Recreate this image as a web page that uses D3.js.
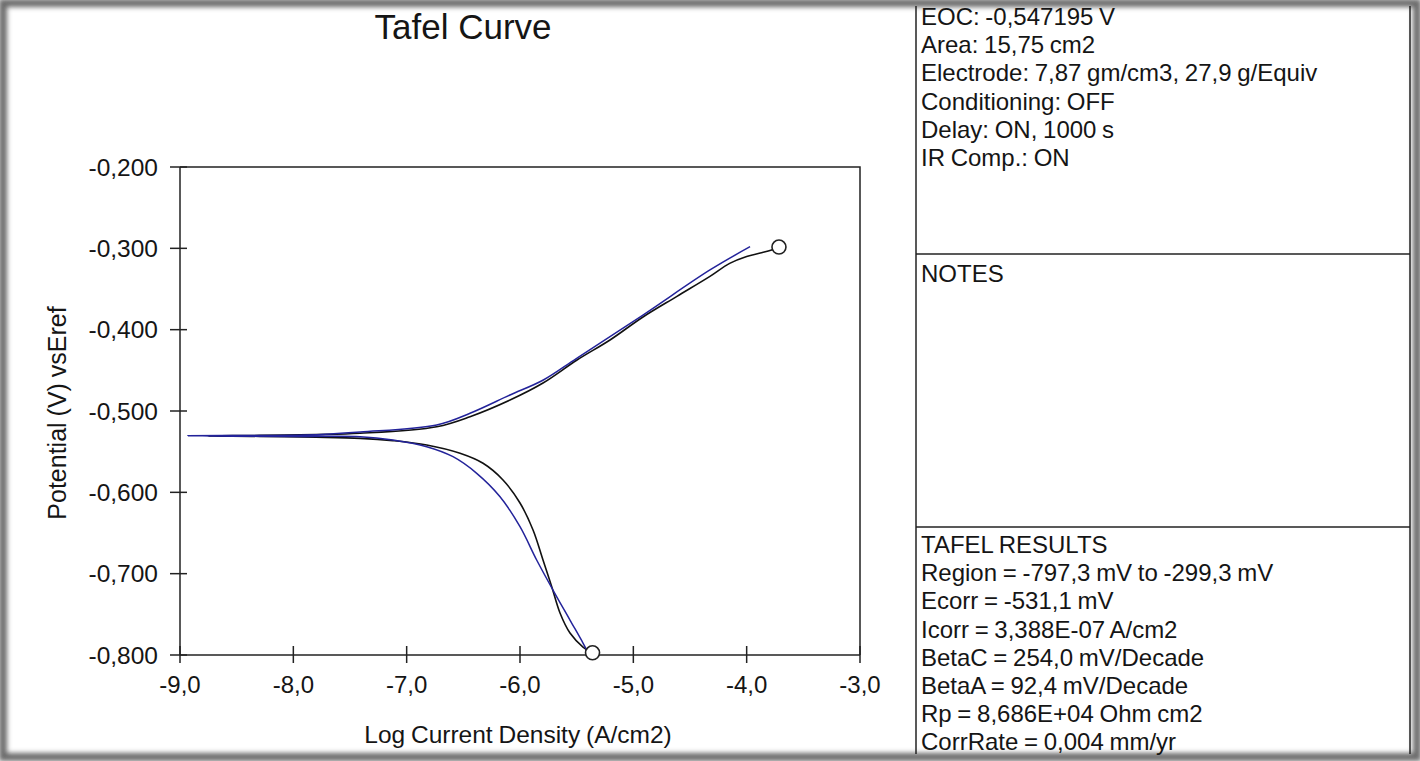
<!DOCTYPE html>
<html>
<head>
<meta charset="utf-8">
<script src="https://cdn.jsdelivr.net/npm/d3@7"></script>
<style>
  html, body { margin: 0; padding: 0; background: #fff; }
  svg text { font-family: "Liberation Sans", Arial, sans-serif; fill: #151515; }
</style>
</head>
<body>
<svg width="1420" height="761"></svg>
<script>
// Tafel plot: measured data (black) and fit (blue)

// Axis ticks
const xTicks = [-9, -8, -7, -6, -5, -4, -3];
const yTicks = [-0.2, -0.3, -0.4, -0.5, -0.6, -0.7, -0.8];

// Measured curve: cathodic branch down to Ecorr, then anodic branch
const measuredLogI = [-5.365, -5.444, -5.559, -5.647, -5.72, -5.797, -5.885, -6.0, -6.15, -6.326,
    -6.529, -6.823, -7.121, -7.41, -7.8, -8.3, -8.75, -8.3, -7.8, -7.41, -6.735, -6.441, -6.088,
    -5.797, -5.497, -5.206, -4.915, -4.615, -4.324, -4.15, -4.0, -3.88, -3.78, -3.715];
const measuredE = [-0.7973, -0.7902, -0.773, -0.7484, -0.716, -0.6832, -0.6463, -0.6131, -0.5848, -0.5643,
    -0.552, -0.5418, -0.5365, -0.5336, -0.5322, -0.5312, -0.5306, -0.5300, -0.5290, -0.5274, -0.5193, -0.507, -0.4865,
    -0.4656, -0.4373, -0.4127, -0.3844, -0.359, -0.3345, -0.3185, -0.3100, -0.3058, -0.302, -0.2984];

// Tafel fit
const fitLogI = [-5.411, -5.444, -5.559, -5.709, -5.853, -6.0, -6.176, -6.382, -6.591, -6.823, -7.121,
    -7.41, -7.9, -8.4, -8.93, -8.4, -7.9, -7.41, -6.735, -6.441, -6.088, -5.794, -5.5, -4.915, -4.324, -3.97];
const fitE = [-0.794, -0.7853, -0.757, -0.7201, -0.6832, -0.6423, -0.6054, -0.5766, -0.5562, -0.5439, -0.5357,
    -0.5316, -0.5313, -0.5311, -0.5305, -0.5300, -0.5296, -0.5258, -0.5172, -0.5028, -0.4803, -0.4619, -0.4352,
    -0.382, -0.3266, -0.298];

// End markers of the scan
const markerLogI = [-5.36, -3.715];
const markerE = [-0.7973, -0.2984];

// Info panel texts
const setupLines = ["EOC: -0,547195 V", "Area: 15,75 cm2", "Electrode: 7,87 gm/cm3, 27,9 g/Equiv",
    "Conditioning: OFF", "Delay: ON, 1000 s", "IR Comp.: ON"];
const notesLines = ["NOTES"];
const resultLines = ["TAFEL RESULTS", "Region = -797,3 mV to -299,3 mV", "Ecorr = -531,1 mV",
    "Icorr = 3,388E-07 A/cm2", "BetaC = 254,0 mV/Decade", "BetaA = 92,4 mV/Decade",
    "Rp = 8,686E+04 Ohm cm2", "CorrRate = 0,004 mm/yr"];

const svg = d3.select("svg"),
    width = +svg.attr("width"),
    height = +svg.attr("height");

// Plot box
const plot = {left: 180, right: 860, top: 167, bottom: 655};
const panelX = 916, panelRight = 1410;

const x = d3.scaleLinear().domain([-9, -3]).range([plot.left, plot.right]);
const y = d3.scaleLinear().domain([-0.8, -0.2]).range([plot.bottom, plot.top]);

// Background + soft frame shadow
svg.append("rect").attr("width", width).attr("height", height).attr("fill", "#fff");
const defs = svg.append("defs");
defs.append("filter").attr("id", "blur")
    .attr("x", "-5%").attr("y", "-5%").attr("width", "110%").attr("height", "110%")
  .append("feGaussianBlur").attr("stdDeviation", 2.5);
svg.append("rect")
    .attr("x", 3).attr("y", 3).attr("width", width - 6).attr("height", height - 7)
    .attr("fill", "none").attr("stroke", "#6a6a6a").attr("stroke-width", 8)
    .attr("filter", "url(#blur)");

// Info panel lines
const lineColor = "#222";
svg.append("line").attr("x1", panelX).attr("x2", panelX).attr("y1", 6).attr("y2", 754)
    .attr("stroke", lineColor).attr("stroke-width", 1.5);
svg.append("line").attr("x1", panelRight).attr("x2", panelRight).attr("y1", 6).attr("y2", 754)
    .attr("stroke", lineColor).attr("stroke-width", 1.5);
[254, 527].forEach(yy => {
    svg.append("line").attr("x1", panelX).attr("x2", panelRight).attr("y1", yy).attr("y2", yy)
        .attr("stroke", lineColor).attr("stroke-width", 1.5);
});

function writeLines(lines, y0) {
    svg.append("g").selectAll("text")
        .data(lines)
        .enter().append("text")
        .attr("x", panelX + 5)
        .attr("y", (d, i) => y0 + i * 28.2)
        .attr("font-size", 24)
        .attr("word-spacing", -1)
        .text(d => d);
}
writeLines(setupLines, 25);
writeLines(notesLines, 282);
writeLines(resultLines, 553);

// Title
svg.append("text")
    .attr("x", 463).attr("y", 39)
    .attr("text-anchor", "middle")
    .attr("font-size", 35)
    .text("Tafel Curve");

// Plot frame (top and right)
svg.append("path")
    .attr("d", `M${plot.left},${plot.top}H${plot.right}V${plot.bottom}`)
    .attr("fill", "none").attr("stroke", lineColor).attr("stroke-width", 1.5);

// X axis with crossing ticks
const gx = svg.append("g").attr("transform", `translate(0,${plot.bottom})`);
gx.append("line").attr("x1", plot.left).attr("x2", plot.right)
    .attr("stroke", lineColor).attr("stroke-width", 1.5);
gx.selectAll(".tick")
    .data(xTicks)
    .enter().append("line")
    .attr("x1", d => x(d)).attr("x2", d => x(d))
    .attr("y1", -9).attr("y2", 8)
    .attr("stroke", lineColor).attr("stroke-width", 1.5);
gx.selectAll(".lbl")
    .data(xTicks)
    .enter().append("text")
    .attr("x", d => x(d)).attr("y", 38)
    .attr("text-anchor", "middle")
    .attr("font-size", 24)
    .text(d => d3.format(".1f")(d).replace(".", ",").replace("−", "-"));

// Y axis with crossing ticks
const gy = svg.append("g").attr("transform", `translate(${plot.left},0)`);
gy.append("line").attr("y1", plot.top).attr("y2", plot.bottom)
    .attr("stroke", lineColor).attr("stroke-width", 1.5);
gy.selectAll(".tick")
    .data(yTicks)
    .enter().append("line")
    .attr("y1", d => y(d)).attr("y2", d => y(d))
    .attr("x1", -10).attr("x2", 7)
    .attr("stroke", lineColor).attr("stroke-width", 1.5);
gy.selectAll(".lbl")
    .data(yTicks)
    .enter().append("text")
    .attr("x", -22).attr("y", d => y(d))
    .attr("dy", "0.36em")
    .attr("text-anchor", "end")
    .attr("font-size", 24.5)
    .text(d => d3.format(".3f")(d).replace(".", ",").replace("−", "-"));

// Axis labels
svg.append("text")
    .attr("x", 518).attr("y", 743)
    .attr("text-anchor", "middle")
    .attr("font-size", 24.5)
    .attr("word-spacing", -1)
    .text("Log Current Density (A/cm2)");

svg.append("text")
    .attr("transform", "translate(66,413) rotate(-90)")
    .attr("text-anchor", "middle")
    .attr("font-size", 25)
    .attr("word-spacing", -1)
    .text("Potential (V) vsEref");

// Curves
const line = d3.line()
    .x(d => x(d[0]))
    .y(d => y(d[1]))
    .curve(d3.curveCatmullRom.alpha(0.5));

const measured = measuredLogI.map((v, i) => [v, measuredE[i]]);
const fit = fitLogI.map((v, i) => [v, fitE[i]]);

svg.append("path")
    .datum(measured)
    .attr("d", line)
    .attr("fill", "none").attr("stroke", "#111").attr("stroke-width", 1.6);

svg.append("path")
    .datum(fit)
    .attr("d", line)
    .attr("fill", "none").attr("stroke", "#23239a").attr("stroke-width", 1.5);

// End markers
svg.append("g").selectAll("circle")
    .data(markerLogI.map((v, i) => [v, markerE[i]]))
    .enter().append("circle")
    .attr("cx", d => x(d[0])).attr("cy", d => y(d[1]))
    .attr("r", 7)
    .attr("fill", "#fff").attr("stroke", "#222").attr("stroke-width", 1.6);
</script>
</body>
</html>
